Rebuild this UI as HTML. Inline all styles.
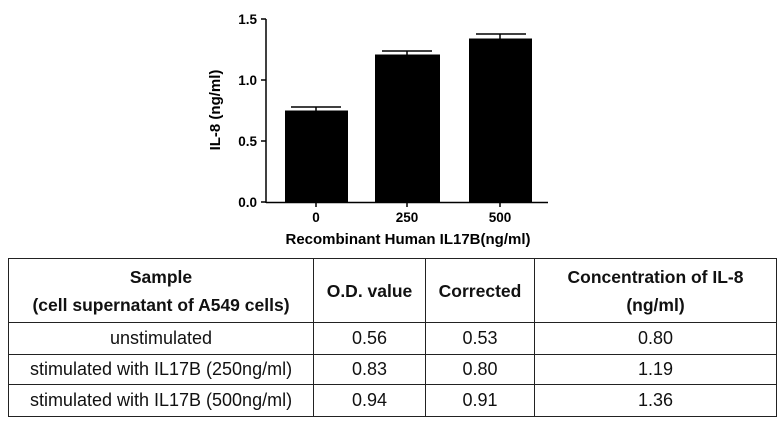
<!DOCTYPE html>
<html><head><meta charset="utf-8"><style>
body{margin:0;width:783px;height:426px;background:#fff;position:relative;overflow:hidden;font-family:"Liberation Sans",Arial,sans-serif;}
svg{position:absolute;left:0;top:0}
table{position:absolute;left:8px;top:258px;border-collapse:collapse;width:769px;font-size:18px;color:#111}
td{border:1.5px solid #222;text-align:center;padding:0}
th{border:1.5px solid #222;font-weight:bold;text-align:center;padding:0;font-size:17.5px;line-height:32px}
</style></head><body>
<svg width="783" height="250" font-family="Liberation Sans,Arial,sans-serif" font-weight="bold" font-size="13.5">
<line x1="266" y1="19" x2="266" y2="203" stroke="#000" stroke-width="1.5"/>
<line x1="266" y1="202.5" x2="548" y2="202.5" stroke="#000" stroke-width="1.5"/>
<g stroke="#000" stroke-width="1.5">
<line x1="261" y1="19" x2="266" y2="19"/><line x1="261" y1="80" x2="266" y2="80"/><line x1="261" y1="141" x2="266" y2="141"/><line x1="261" y1="202" x2="266" y2="202"/>
<line x1="316" y1="202" x2="316" y2="207"/><line x1="407" y1="202" x2="407" y2="207"/><line x1="500" y1="202" x2="500" y2="207"/>
<line x1="316" y1="107" x2="316" y2="111"/><line x1="291" y1="107" x2="341" y2="107"/>
<line x1="407" y1="51" x2="407" y2="55"/><line x1="382" y1="51" x2="432" y2="51"/>
<line x1="500" y1="34" x2="500" y2="39"/><line x1="476" y1="34" x2="526" y2="34"/>
</g>
<rect x="285" y="110.5" width="63" height="92" fill="#000"/>
<rect x="375" y="54.5" width="65" height="148" fill="#000"/>
<rect x="469" y="38.5" width="63" height="164" fill="#000"/>
<g text-anchor="end"><text x="257" y="24">1.5</text><text x="257" y="85">1.0</text><text x="257" y="146">0.5</text><text x="257" y="207">0.0</text></g>
<g text-anchor="middle"><text x="316" y="222">0</text><text x="407" y="222">250</text><text x="500" y="222">500</text>
<text x="408" y="244" font-size="15">Recombinant Human IL17B(ng/ml)</text>
<text transform="translate(220,110) rotate(-90)" font-size="15">IL-8 (ng/ml)</text></g>
</svg>
<table>
<tr style="height:64px"><th style="width:304px;line-height:28px">Sample<br>(cell supernatant of A549 cells)</th><th style="width:111px">O.D. value</th><th style="width:108px">Corrected</th><th style="line-height:28px">Concentration of IL-8<br>(ng/ml)</th></tr>
<tr style="height:32px"><td>unstimulated</td><td>0.56</td><td>0.53</td><td>0.80</td></tr>
<tr style="height:30px"><td>stimulated with IL17B (250ng/ml)</td><td>0.83</td><td>0.80</td><td>1.19</td></tr>
<tr style="height:32px"><td>stimulated with IL17B (500ng/ml)</td><td>0.94</td><td>0.91</td><td>1.36</td></tr>
</table>
</body></html>
